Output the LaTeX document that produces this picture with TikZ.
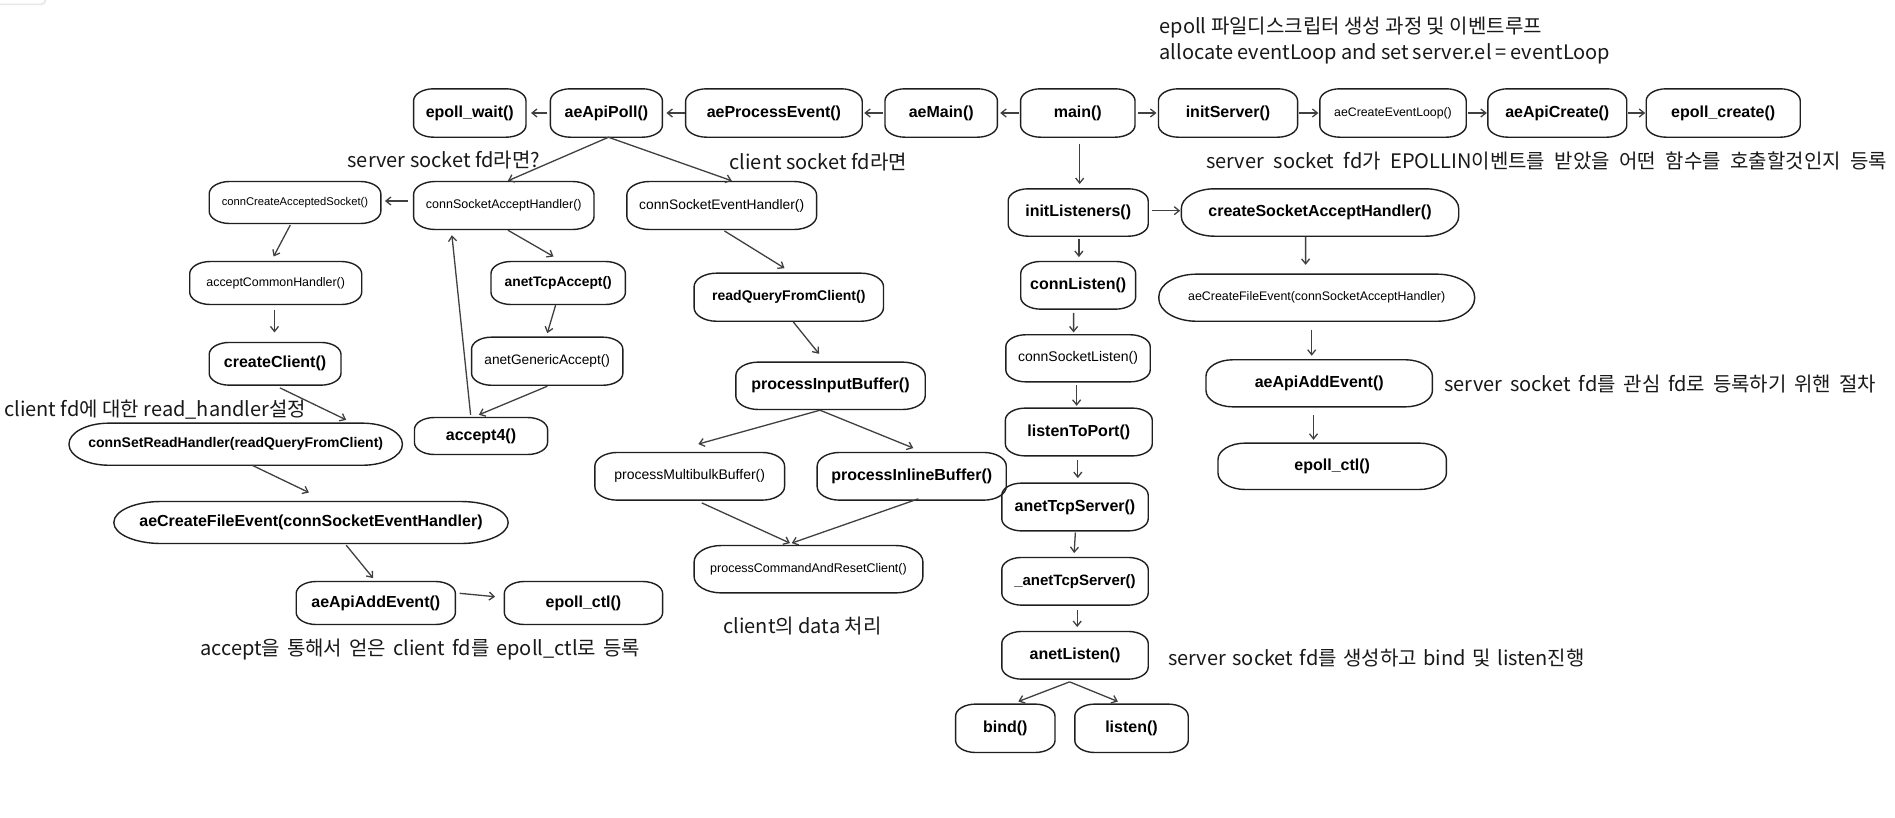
\documentclass[tikz,border=0pt]{standalone}
\usepackage{fontspec}
\setmainfont{Liberation Sans}
\newfontfamily\krfont{Noto Sans CJK KR}
\usetikzlibrary{arrows.meta}

% one unit = one pixel, y grows downwards
\tikzset{
  box/.style={draw=none, inner sep=0pt, align=center},
  txtb/.style={font=\bfseries\fontsize{#1}{#1}\selectfont},
  txtr/.style={font=\fontsize{#1}{#1}\selectfont},
  outline/.style={draw=black!88, line width=1.4pt},
  cn/.style={draw=black!75, line width=1.3pt, -{Straight Barb[length=5pt,width=8pt]}},
  ann/.style={font=\krfont\fontsize{20}{24}\selectfont, inner sep=0pt, anchor=base west, text=black!90},
  wsp/.style={execute at begin node={\spaceskip=#1\relax}},
}
\newcommand\linkarrow[4]{\draw[cn] ([shift={#2}]#1) -- ([shift={#4}]#3);}

\begin{document}
\begin{tikzpicture}[x=1pt,y=-1pt]
\fill[white] (0,0) rectangle (1895,817);
\useasboundingbox (0,0) rectangle (1895,817);

% small card edge in the top-left corner
\fill[black!9, rounded corners=4pt] (-10,-20) rectangle (46,5);
\fill[white, rounded corners=4pt] (-10,-20) rectangle (44.5,3.5);

% ---- top row: event loop and server init
\node[box, txtb=16, minimum width=112pt,   minimum height=48pt] (epw)    at (469.8,113)  {epoll\_wait()};
\node[box, txtb=16, minimum width=111.6pt, minimum height=48pt] (apoll)  at (606.4,113)  {aeApiPoll()};
\node[box, txtb=16, minimum width=176.2pt, minimum height=48pt] (aepe)   at (773.9,113)  {aeProcessEvent()};
\node[box, txtb=16, minimum width=112pt,   minimum height=48pt] (aemain) at (941.2,113)  {aeMain()};
\node[box, txtb=16, minimum width=114pt,   minimum height=48pt] (main)   at (1077.8,113) {main()};
\node[box, txtb=16, minimum width=138.7pt, minimum height=48pt] (inits)  at (1228,113)   {initServer()};
\node[box, txtr=12.3, minimum width=146pt, minimum height=48pt] (acel)   at (1393,113)   {aeCreateEventLoop()};
\node[box, txtb=16, minimum width=138.5pt, minimum height=48pt] (aac)    at (1557.3,113) {aeApiCreate()};
\node[box, txtb=16, minimum width=153.6pt, minimum height=48pt] (ecr)    at (1723.2,113) {epoll\_create()};

% ---- accept path (server socket)
\node[box, txtr=11.2, minimum width=171.2pt, minimum height=41.6pt] (ccas) at (295,202.5)   {connCreateAcceptedSocket()};
\node[box, txtr=12.5, minimum width=180pt,   minimum height=47.6pt] (csah) at (503.8,205.5) {connSocketAcceptHandler()};
\node[box, txtr=12.4, minimum width=171.6pt, minimum height=42.6pt] (ach)  at (275.7,283)   {acceptCommonHandler()};
\node[box, txtb=13.8, minimum width=134pt,   minimum height=42.6pt] (ata)  at (558.2,283)   {anetTcpAccept()};
\node[box, txtb=16,   minimum width=131.4pt, minimum height=42.3pt] (cc)   at (275.1,363.8) {createClient()};
\node[box, txtr=13.7, minimum width=150.9pt, minimum height=47.7pt] (aga)  at (547.2,361.2) {anetGenericAccept()};
\node[box, txtb=14,   minimum width=333pt,   minimum height=41.7pt] (csrh) at (235.7,444.2) {connSetReadHandler(readQueryFromClient)};
\node[box, txtb=16,   minimum width=132.7pt, minimum height=36.6pt] (acc4) at (481,436)     {accept4()};
\node[box, txtb=16,   minimum width=393.9pt, minimum height=41.6pt] (acfel) at (311,522.5)  {aeCreateFileEvent(connSocketEventHandler)};
\node[box, txtb=16,   minimum width=158.8pt, minimum height=42.6pt] (aael) at (375.8,603)   {aeApiAddEvent()};
\node[box, txtb=16,   minimum width=157.9pt, minimum height=42.6pt] (ectll) at (583.5,603)  {epoll\_ctl()};

% ---- read path (client socket)
\node[box, txtr=13.8, minimum width=189.4pt, minimum height=47.6pt] (cseh)  at (721.7,205.5) {connSocketEventHandler()};
\node[box, txtb=14,   minimum width=189pt,   minimum height=47.7pt] (rqfc)  at (788.8,297.2) {readQueryFromClient()};
\node[box, txtb=16,   minimum width=189pt,   minimum height=47pt]   (pib)   at (830.5,385.8) {processInputBuffer()};
\node[box, txtr=14,   minimum width=189.3pt, minimum height=47.3pt] (pmb)   at (689.7,476.3) {processMultibulkBuffer()};
\node[box, txtb=16,   minimum width=188.7pt, minimum height=47.3pt] (pinl)  at (911.7,476.3) {processInlineBuffer()};
\node[box, txtr=12.5, minimum width=228.4pt, minimum height=47pt]   (pcarc) at (808.5,569.2) {processCommandAndResetClient()};

% ---- listener setup
\node[box, txtb=16, minimum width=139.6pt, minimum height=47pt]   (il)   at (1078.2,212.5) {initListeners()};
\node[box, txtb=16, minimum width=114.5pt, minimum height=47.3pt] (cl)   at (1078.2,285.3) {connListen()};
\node[box, txtr=14, minimum width=144pt,   minimum height=46.7pt] (csl)  at (1078,358.3)   {connSocketListen()};
\node[box, txtb=16, minimum width=146.5pt, minimum height=47.4pt] (ltp)  at (1078.8,432)   {listenToPort()};
\node[box, txtb=16, minimum width=146pt,   minimum height=47.4pt] (ats)  at (1075,507)     {anetTcpServer()};
\node[box, txtb=15, minimum width=146pt,   minimum height=47.3pt] (uats) at (1075,581.3)   {\_anetTcpServer()};
\node[box, txtb=16, minimum width=146pt,   minimum height=47.3pt] (al)   at (1075,655.3)   {anetListen()};
\node[box, txtb=16, minimum width=99pt,    minimum height=48pt]   (bind) at (1005.3,728.3) {bind()};
\node[box, txtb=16, minimum width=113pt,   minimum height=48pt]   (lis)  at (1131.5,728.3) {listen()};

% ---- accept handler registration
\node[box, txtb=16,   minimum width=277pt,   minimum height=47pt]   (csahr) at (1320,212.5)   {createSocketAcceptHandler()};
\node[box, txtr=12.4, minimum width=315.4pt, minimum height=46.7pt] (acfer) at (1316.7,297.7) {aeCreateFileEvent(connSocketAcceptHandler)};
\node[box, txtb=16,   minimum width=226pt,   minimum height=46.7pt] (aaer)  at (1319.2,383.3) {aeApiAddEvent()};
\node[box, txtb=16,   minimum width=228pt,   minimum height=46pt]   (ectlr) at (1332.2,466.3) {epoll\_ctl()};

% ---- rounded outlines with elliptical ends
\foreach \nm/\rx/\ry in {
  epw/20pt/12pt, apoll/20pt/12pt, aepe/21.1pt/12.7pt, aemain/20pt/12pt, main/20pt/12pt,
  inits/20pt/12pt, acel/20pt/12pt, aac/20pt/12pt, ecr/20pt/12pt,
  ccas/20.5pt/12.3pt, csah/21.6pt/13pt, cseh/22.7pt/13.6pt, il/20pt/12pt, csahr/33.2pt/19.9pt,
  ach/20.6pt/12.4pt, ata/20pt/12pt, rqfc/22.7pt/13.6pt, cl/20pt/12pt, acfer/37.8pt/22.7pt,
  cc/20pt/12pt, aga/20pt/12pt, pib/22.7pt/13.6pt, csl/20pt/12pt, aaer/27.1pt/16.3pt,
  csrh/40pt/20.8pt, acc4/20pt/12pt, pmb/22.7pt/13.6pt, pinl/22.6pt/13.6pt, ltp/20pt/12pt,
  ectlr/27.4pt/16.4pt, acfel/47.3pt/20.8pt, pcarc/27.4pt/16.4pt, ats/20pt/12pt,
  aael/20pt/12pt, ectll/20pt/12pt, uats/20pt/12pt, al/20pt/12pt, bind/20pt/12pt, lis/20pt/12pt}
{
  \draw[outline] ([xshift=\rx]\nm.north west) -- ([xshift=-\rx]\nm.north east)
    arc[start angle=90, end angle=0, x radius=\rx, y radius=\ry]
    -- ([yshift=\ry]\nm.south east)
    arc[start angle=0, end angle=-90, x radius=\rx, y radius=\ry]
    -- ([xshift=\rx]\nm.south west)
    arc[start angle=270, end angle=180, x radius=\rx, y radius=\ry]
    -- ([yshift=-\ry]\nm.north west)
    arc[start angle=180, end angle=90, x radius=\rx, y radius=\ry]
    -- cycle;
}

% ---- connectors: top row
\linkarrow{main.west}{(-2,0)}{aemain.east}{(2.8,0)}
\linkarrow{aemain.west}{(-2,0)}{aepe.east}{(2,0)}
\linkarrow{aepe.west}{(-1,0)}{apoll.east}{(4,0)}
\linkarrow{apoll.west}{(-3,0)}{epw.east}{(5,0)}
\linkarrow{main.east}{(3,0)}{inits.west}{(-2,0)}
\linkarrow{inits.east}{(1,0)}{acel.west}{(-1.4,0)}
\linkarrow{acel.east}{(1.3,0)}{aac.west}{(-1,0)}
\linkarrow{aac.east}{(1,0)}{ecr.west}{(-1,0)}

% ---- connectors: accept path
\linkarrow{apoll.south}{(2.2,0)}{csah.north}{(4.1,-0.7)}
\linkarrow{csah.west}{(-5.4,-4.5)}{ccas.east}{(4.1,-1.5)}
\linkarrow{ccas.south}{(-4.8,1.7)}{ach.north}{(-2.1,-5)}
\linkarrow{ach.south}{(-1.2,5)}{cc.north}{(-0.6,-10)}
\linkarrow{cc.south}{(4.8,2.7)}{csrh.north}{(110.5,-3.3)}
\linkarrow{csrh.south}{(16.4,0)}{acfel.north}{(-2.1,-9)}
\linkarrow{acfel.south}{(35.2,1.7)}{aael.north}{(-2.7,-3.4)}
\linkarrow{aael.east}{(4.2,-9.7)}{ectll.west}{(-9.2,-6.3)}
\linkarrow{csah.south}{(4.1,0.7)}{ata.north}{(-4.7,-5)}
\linkarrow{ata.south}{(-2.6,0.7)}{aga.north}{(0.1,-4)}
\linkarrow{aga.south}{(0.1,1)}{acc4.north}{(-2.1,-2.7)}
\linkarrow{acc4.north}{(-10.4,-2.7)}{csah.south}{(-51.9,5.7)}

% ---- connectors: read path
\linkarrow{apoll.south}{(1.9,0)}{cseh.north}{(10.1,-0.7)}
\linkarrow{cseh.south}{(2.7,1.4)}{rqfc.north}{(-4.3,-5)}
\linkarrow{rqfc.south}{(4.5,0.7)}{pib.north}{(-11.5,-8.3)}
\linkarrow{pib.south}{(-10.5,0.7)}{pmb.north}{(8.6,-8.4)}
\linkarrow{pib.south}{(-10.5,0.7)}{pinl.north}{(1.6,-4.4)}
\linkarrow{pmb.south}{(12,2.7)}{pcarc.north}{(-18.5,-2.4)}
\linkarrow{pinl.south}{(6.6,-1.3)}{pcarc.north}{(-16.8,-2.4)}

% ---- connectors: listener setup
\linkarrow{main.south}{(1.9,6.3)}{il.north}{(1.5,-4.7)}
\linkarrow{il.east}{(4.2,-1.8)}{csahr.west}{(-1.1,-1.8)}
\linkarrow{il.south}{(0.7,2.3)}{cl.north}{(0.7,-4.4)}
\linkarrow{cl.south}{(-4.6,3.7)}{csl.north}{(-4.4,-2.3)}
\linkarrow{csl.south}{(-1.4,3.3)}{ltp.north}{(-2.2,-2.3)}
\linkarrow{ltp.south}{(-1,4.3)}{ats.north}{(2.8,-5)}
\linkarrow{ats.south}{(0.4,1.6)}{uats.north}{(-0.9,-4.4)}
\linkarrow{uats.south}{(2.2,5)}{al.north}{(2.2,-4.4)}
\linkarrow{al.south}{(-5.4,2.7)}{bind.north}{(13,-2.6)}
\linkarrow{al.south}{(-5.4,2.7)}{lis.north}{(-13.6,-2.6)}
\linkarrow{csahr.south}{(-14.4,0.7)}{acfer.north}{(-11.1,-9.3)}
\linkarrow{acfer.south}{(-5,8.3)}{aaer.north}{(-7.5,-4)}
\linkarrow{aaer.south}{(-5.7,8.3)}{ectlr.north}{(-18.7,-3.3)}

% ---- notes
\node[ann] (n1)  at (1159.5,33)   {epoll 파일디스크립터 생성 과정 및 이벤트루프};
\node[ann, wsp=4pt] (n2)  at (1159.5,59.5) {allocate eventLoop and set server.el = eventLoop};
\node[ann] (n3)  at (347.4,167)   {server socket fd라면?};
\node[ann] (n4)  at (729.4,169.3) {client socket fd라면};
\node[ann, wsp=9.5pt] (n5)  at (1206,168)    {server socket fd가 EPOLLIN이벤트를 받았을 어떤 함수를 호출할것인지 등록};
\node[ann] (n6)  at (4.1,416.5)   {client fd에 대한 read\_handler설정};
\node[ann, wsp=7.8pt] (n7)  at (1444.3,391)  {server socket fd를 관심 fd로 등록하기 위핸 절차};
\node[ann, wsp=7pt] (n8)  at (200.2,655.8) {accept을 통해서 얻은 client fd를 epoll\_ctl로 등록};
\node[ann] (n9)  at (723.3,633.5) {client의 data 처리};
\node[ann, wsp=6.5pt] (n10) at (1167.9,665.5) {server socket fd를 생성하고 bind 및 listen진행};
\end{tikzpicture}
\end{document}
